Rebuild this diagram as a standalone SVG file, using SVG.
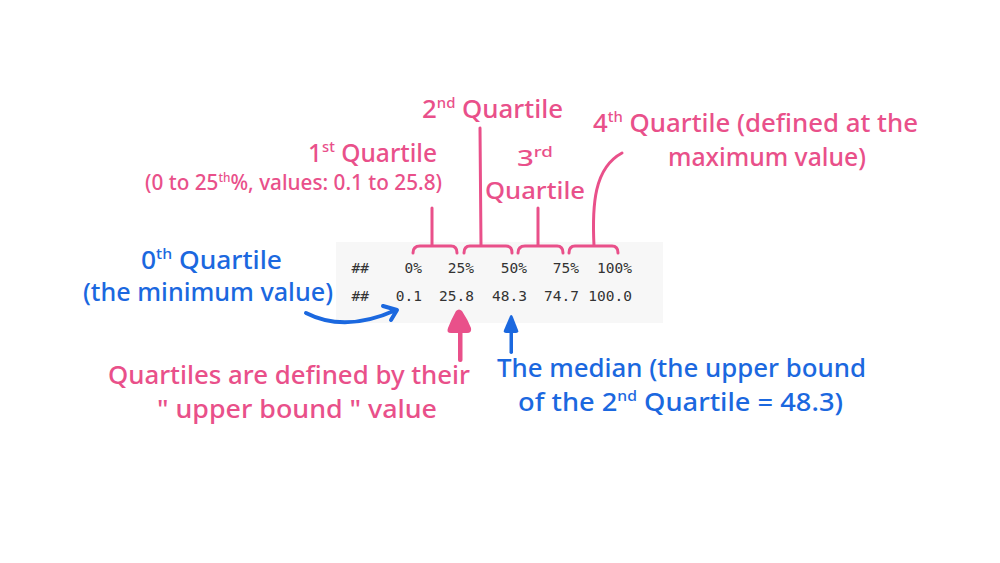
<svg xmlns="http://www.w3.org/2000/svg" width="1000" height="563" viewBox="0 0 1000 563">
<style>
.p{fill:#e9508a;font-family:"Noto Sans","Open Sans",sans-serif;font-weight:500}
.b{fill:#1b68df;font-family:"Noto Sans","Open Sans",sans-serif;font-weight:500}
.m{fill:#333333;font-family:"DejaVu Sans Mono","Liberation Mono",monospace;font-size:14.5px;text-anchor:end}
.br{fill:none;stroke:#e9508a;stroke-width:3;stroke-linecap:round;stroke-linejoin:round}
.ab{fill:none;stroke:#1b68df;stroke-width:4;stroke-linecap:round;stroke-linejoin:round}
</style>
<rect width="1000" height="563" fill="#ffffff"/>
<g id="code">
<rect x="336" y="242" width="327" height="81" fill="#f7f7f7"/>
<text class="m" x="369" y="273">##</text>
<text class="m" x="422" y="273">0%</text>
<text class="m" x="474" y="273">25%</text>
<text class="m" x="527" y="273">50%</text>
<text class="m" x="579" y="273">75%</text>
<text class="m" x="632" y="273">100%</text>
<text class="m" x="369" y="301">##</text>
<text class="m" x="422" y="301">0.1</text>
<text class="m" x="474" y="301">25.8</text>
<text class="m" x="527" y="301">48.3</text>
<text class="m" x="579" y="301">74.7</text>
<text class="m" x="632" y="301">100.0</text>
</g>
<g id="connectors">
<path class="br" d="M413 253 Q413 246 420 246 L432 246 M432 246 L432 208 M432 246 L451 246 Q457 246 457 253"/>
<path class="br" d="M464 253 Q464 246 470 246 L481 246 M481 246 L480 128 M481 246 L506 246 Q512 246 512 253"/>
<path class="br" d="M518 253 Q518 246 525 246 L538 246 M538 246 L538 208 M538 246 L557 246 Q563 246 563 253"/>
<path class="br" d="M569 253 Q569 246 575 246 L594 246 M594 246 C 592 205 594 168 622 153 M594 246 L612 246 Q618 246 618 253"/>
<path class="ab" d="M306 313 Q345 333 396 310 M383 306 L397 310 L391 320"/>
<path d="M456 311 Q459 308 462 311 Q468 320 471 328 Q472 333 467 333 L451 333 Q446 333 448 328 Q451 320 456 311 Z" fill="#e9508a"/>
<rect x="458" y="330" width="4.5" height="32" rx="2" fill="#e9508a"/>
<path d="M510 316 Q511 314 512.5 316 L518 330 Q519 333 516 333 L506 333 Q503 333 504 330 Z" fill="#1b68df"/>
<rect x="509.5" y="330" width="3.5" height="24" rx="1.7" fill="#1b68df"/>
</g>
<g id="q1">
<text class="p" x="308" y="162" font-size="25" textLength="129" lengthAdjust="spacingAndGlyphs">1<tspan font-size="15" dy="-10">st</tspan><tspan dy="10"> Quartile</tspan></text>
<text class="p" x="145" y="190" font-size="21" textLength="297" lengthAdjust="spacingAndGlyphs">(0 to 25<tspan font-size="12" dy="-8">th</tspan><tspan dy="8">%, values: 0.1 to 25.8)</tspan></text>
</g>
<g id="q2">
<text class="p" x="422" y="118" font-size="26" textLength="141" lengthAdjust="spacingAndGlyphs">2<tspan font-size="15" dy="-10">nd</tspan><tspan dy="10"> Quartile</tspan></text>
</g>
<g id="q3">
<text class="p" x="517" y="166" font-size="22" textLength="36" lengthAdjust="spacingAndGlyphs">3<tspan font-size="14" dy="-9">rd</tspan></text>
<text class="p" x="485" y="199" font-size="24" textLength="100" lengthAdjust="spacingAndGlyphs">Quartile</text>
</g>
<g id="q4">
<text class="p" x="593" y="132" font-size="26" textLength="325" lengthAdjust="spacingAndGlyphs">4<tspan font-size="15" dy="-10">th</tspan><tspan dy="10"> Quartile (defined at the</tspan></text>
<text class="p" x="668" y="166" font-size="26" textLength="198" lengthAdjust="spacingAndGlyphs">maximum  value)</text>
</g>
<g id="q0">
<text class="b" x="141" y="269" font-size="25" textLength="141" lengthAdjust="spacingAndGlyphs">0<tspan font-size="15" dy="-10">th</tspan><tspan dy="10"> Quartile</tspan></text>
<text class="b" x="83" y="301" font-size="25" textLength="250" lengthAdjust="spacingAndGlyphs">(the minimum  value)</text>
</g>
<g id="upper-bound-note">
<text class="p" x="108" y="384" font-size="26" textLength="362" lengthAdjust="spacingAndGlyphs">Quartiles are defined by their</text>
<text class="p" x="157" y="418" font-size="26" textLength="280" lengthAdjust="spacingAndGlyphs">" upper  bound "  value</text>
</g>
<g id="median-note">
<text class="b" x="497" y="377" font-size="26" textLength="369" lengthAdjust="spacingAndGlyphs">The median (the upper  bound</text>
<text class="b" x="518" y="411" font-size="26" textLength="325" lengthAdjust="spacingAndGlyphs">of the 2<tspan font-size="15" dy="-10">nd</tspan><tspan dy="10"> Quartile = 48.3)</tspan></text>
</g>
</svg>
